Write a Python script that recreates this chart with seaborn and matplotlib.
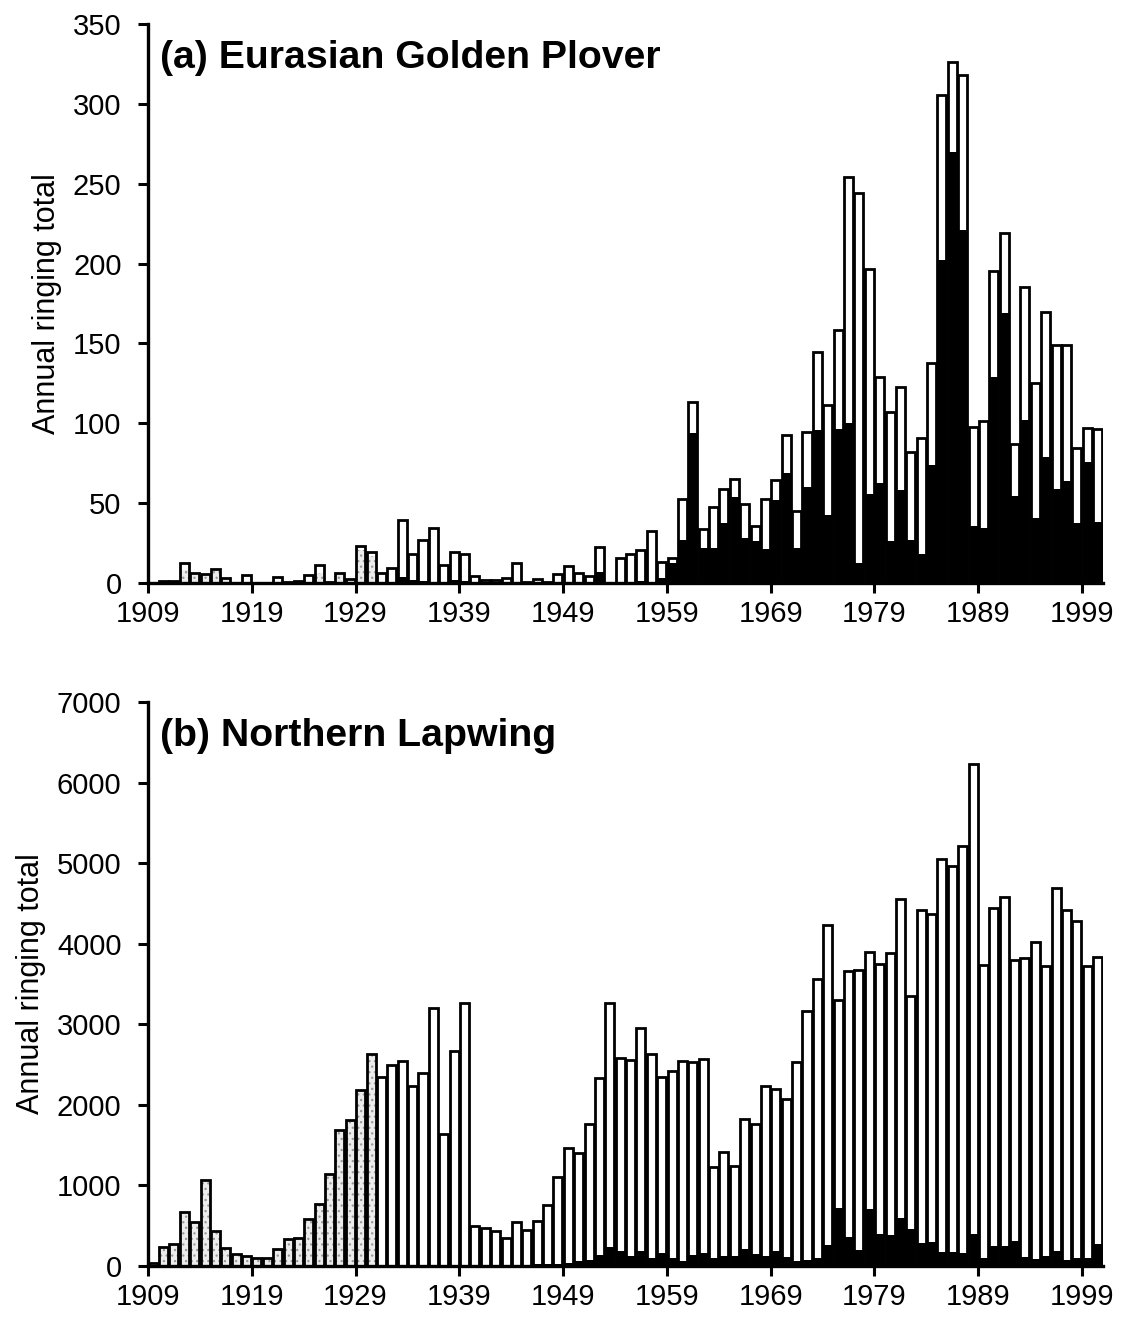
import numpy as np
import pandas as pd
import matplotlib
matplotlib.use("Agg")
import matplotlib.pyplot as plt
import seaborn as sns

# ---------------------------------------------------------------
# data (annual ringing totals 1909-2000)
# ---------------------------------------------------------------
years = list(range(1909, 2001))

# (a) Eurasian Golden Plover
plover_total = [
    0, 1.5, 1.5, 12.5, 6.5, 5.5, 8.7, 3.4, 0, 5.3,            # 1909-1918
    0, 0, 3.5, 0.6, 1.5, 4.8, 11.3, 0.7, 6.6, 2.5,            # 1919-1928
    23.5, 19.5, 6.5, 9.5, 39.5, 18, 27, 34.5, 11.5, 19.5,     # 1929-1938
    18.5, 4.2, 2, 2, 3.2, 12.3, 0.4, 2.5, 0.4, 5.6,           # 1939-1948
    10.9, 6.3, 4.6, 22.5, 0, 15.4, 18.4, 20.5, 32.6, 13.4,    # 1949-1958
    15.8, 52.5, 113.5, 33.6, 47.5, 58.6, 65.4, 49.2, 35.6, 52.5,   # 1959-1968
    64.7, 92.9, 45.2, 94.5, 144.4, 111.3, 158.7, 254.5, 244.5, 196.8,  # 1969-1978
    129.2, 106.8, 122.5, 82.2, 90.7, 137.5, 305.6, 326, 318.3, 97.8,  # 1979-1988
    101.6, 195.7, 219, 87.3, 185.1, 125.1, 169.9, 148.9, 148.9, 84.4,  # 1989-1998
    97.2, 96.3,                                                # 1999-2000
]
plover_adult = [
    0, 0, 0, 0, 0, 0, 0, 0, 0, 0,
    0, 0, 0, 0, 0, 0, 0, 0, 0, 0,
    0, 0, 0, 0, 4, 2, 1, 0.5, 0, 2,
    1, 0, 0, 0, 0, 0, 0, 0, 0, 0,
    0, 0, 0, 6.7, 0, 0, 0, 1, 0, 3,
    12.5, 27, 94, 21.8, 21.8, 37.7, 53.8, 28.1, 26.1, 21.1,
    51.9, 68.7, 21.7, 60.4, 95.6, 42.3, 96.7, 100, 12.8, 55.7,
    62.7, 26.2, 58, 26.9, 18.4, 73.7, 202, 269.8, 221, 35.8,
    34.7, 129.2, 169, 54.2, 101.9, 40.7, 78.8, 58.7, 63.8, 37.4,
    75.9, 38.5,
]
plover_early = [
    0, 1.5, 1.5, 8, 6.5, 5.5, 8.7, 3.4, 0, 0,
    0, 0, 0, 0.6, 1.5, 0, 6, 0.7, 6.6, 2.5,
    21, 17,
] + [0] * 70

# (b) Northern Lapwing
lapwing_total = [
    40, 238, 270, 665, 545, 1067, 433, 228, 152, 130,
    100, 100, 207, 332, 344, 589, 772, 1141, 1693, 1817,
    2183, 2627, 2349, 2494, 2544, 2228, 2398, 3199, 1635, 2668,
    3261, 490, 477, 440, 345, 550, 450, 560, 760, 1110,
    1468, 1406, 1766, 2333, 3259, 2577, 2556, 2949, 2626, 2345,
    2415, 2539, 2531, 2572, 1232, 1419, 1241, 1820, 1758, 2233,
    2192, 2068, 2531, 3164, 3560, 4229, 3301, 3666, 3679, 3894,
    3744, 3885, 4560, 3357, 4418, 4367, 5054, 4968, 5218, 6236,
    3731, 4440, 4582, 3795, 3817, 4023, 3722, 4689, 4418, 4281,
    3722, 3830,
]
lapwing_adult = [
    0, 0, 0, 0, 0, 0, 0, 0, 0, 0,
    0, 0, 0, 0, 0, 0, 0, 0, 0, 0,
    0, 0, 0, 0, 0, 0, 0, 0, 0, 0,
    0, 10, 10, 10, 10, 15, 15, 20, 25, 30,
    40, 60, 80, 140, 230, 190, 120, 190, 105, 165,
    105, 65, 135, 160, 95, 130, 130, 205, 145, 125,
    185, 115, 65, 75, 99, 262, 722, 357, 198, 713,
    391, 383, 597, 464, 284, 301, 176, 176, 163, 391,
    103, 249, 249, 305, 112, 90, 120, 185, 69, 103,
    103, 275,
]
lapwing_early = lapwing_total[:22] + [0] * 70

tick_years = [1909, 1919, 1929, 1939, 1949, 1959, 1969, 1979, 1989, 1999]

panels = [
    ("(a) Eurasian Golden Plover", plover_total, plover_early, plover_adult, 350, 50),
    ("(b) Northern Lapwing", lapwing_total, lapwing_early, lapwing_adult, 7000, 1000),
]

# ---------------------------------------------------------------
# plotting
# ---------------------------------------------------------------
sns.set_theme(style="ticks")
plt.rcParams['font.family'] = ['Liberation Sans', 'DejaVu Sans']
plt.rcParams['hatch.linewidth'] = 0.9
for key in ['text.color', 'axes.labelcolor', 'xtick.color', 'ytick.color']:
    plt.rcParams[key] = 'black'

fig = plt.figure(figsize=(11.26, 13.23), dpi=100)
ax_a = fig.add_axes([0.1314, 0.5593, 0.848, 0.4225])
ax_b = fig.add_axes([0.1314, 0.0431, 0.848, 0.4263])

bar_w = 0.87
for ax, (title, total, early, adult, ymax, ystep) in zip([ax_a, ax_b], panels):
    df = pd.DataFrame({"year": years, "total": total, "early": early, "adult": adult})
    # white (total) bars
    sns.barplot(data=df, x="year", y="total", ax=ax, color="white", saturation=1,
                width=bar_w, errorbar=None, linewidth=0)
    # stippled early-period bars
    sns.barplot(data=df, x="year", y="early", ax=ax, color="#ececec", saturation=1,
                width=bar_w, errorbar=None, linewidth=0, edgecolor="#9a9a9a", hatch="...")
    # adults (black)
    sns.barplot(data=df, x="year", y="adult", ax=ax, color="black", saturation=1,
                width=bar_w, errorbar=None, linewidth=0)
    # outlines
    sns.barplot(data=df, x="year", y="total", ax=ax, fill=False, width=bar_w,
                errorbar=None, edgecolor="black", linewidth=2.0)

    ax.set_xlim(-0.5, len(years) - 0.5)
    ax.set_ylim(0, ymax)
    ax.set_yticks(np.arange(0, ymax + 1, ystep))
    ax.set_xticks([years.index(y) - 0.5 for y in tick_years])
    ax.set_xticklabels([str(y) for y in tick_years])
    ax.set_xlabel("")
    ax.set_ylabel("Annual ringing total", fontsize=22, labelpad=8)
    ax.tick_params(axis="both", direction="out", length=7, width=2.2,
                   labelsize=21, color="black")
    ax.tick_params(axis="x", pad=5)
    ax.tick_params(axis="y", pad=12)
    for s in ["left", "bottom"]:
        ax.spines[s].set_linewidth(2.4)
        ax.spines[s].set_color("black")
    sns.despine(ax=ax)
    ax.text(0.013, 0.972, title, transform=ax.transAxes, fontsize=28.3,
            fontweight="bold", va="top", ha="left")

fig.savefig("out.png", dpi=100, facecolor="white")
